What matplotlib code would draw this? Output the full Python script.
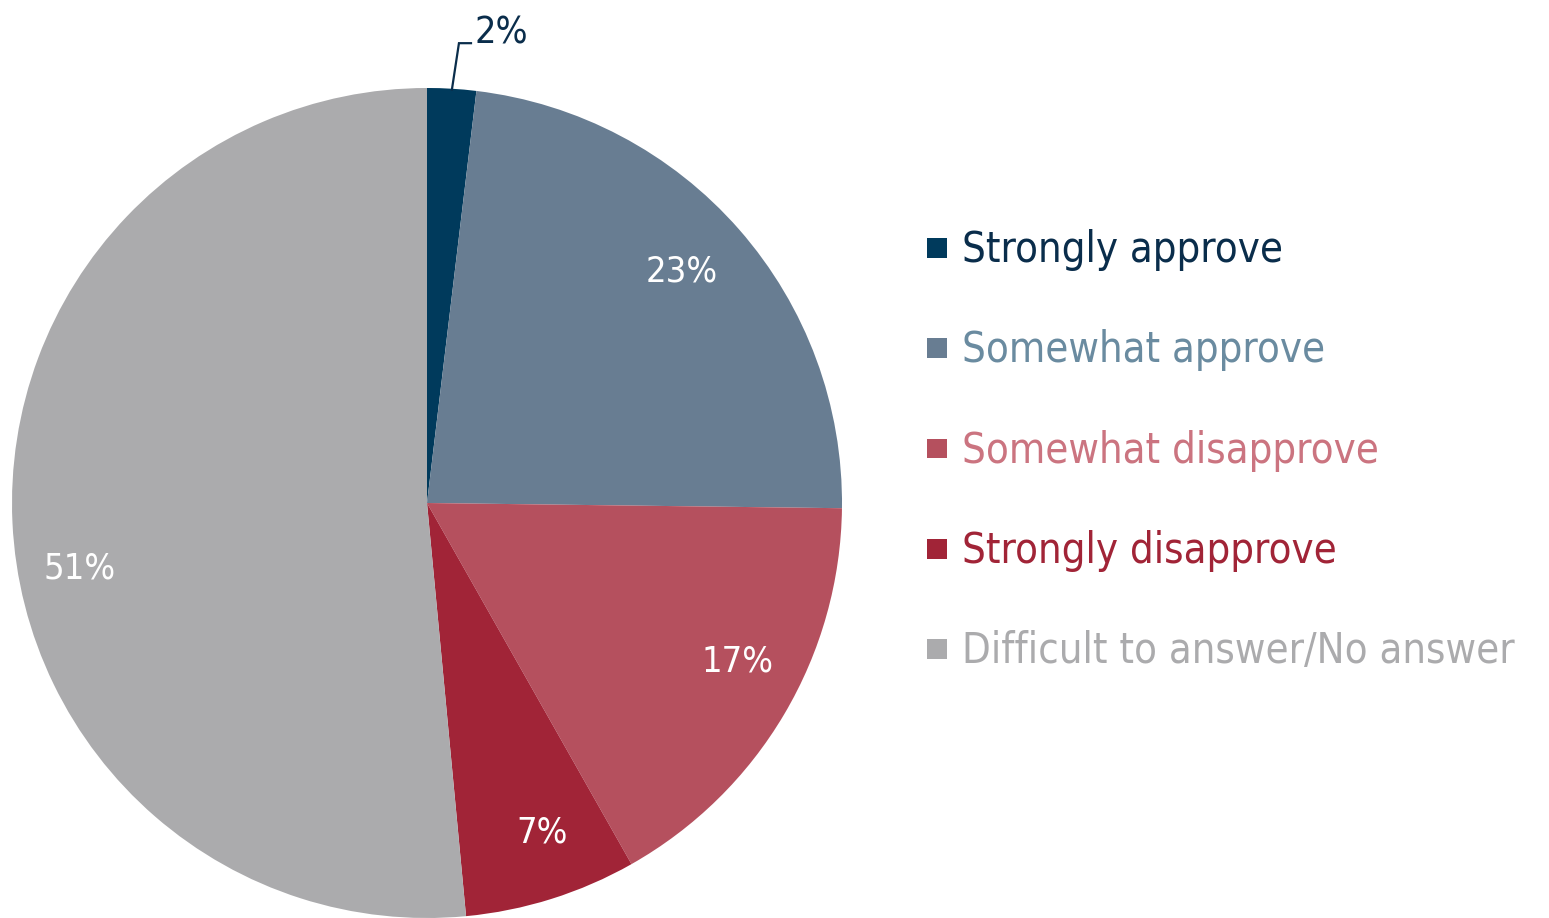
import matplotlib
matplotlib.use("Agg")
import matplotlib.pyplot as plt
from matplotlib.patches import Rectangle

categories = ["Strongly approve", "Somewhat approve", "Somewhat disapprove",
              "Strongly disapprove", "Difficult to answer/No answer"]
values = [1.9, 23.3, 16.6, 6.7, 51.5]
pct_labels = ["2%", "23%", "17%", "7%", "51%"]
wedge_colors = ["#003A5C", "#687D92", "#B5505E", "#A12437", "#ABABAD"]
text_colors = ["#0A2D4B", "#6A8BA0", "#CB7480", "#A12437", "#ABABAD"]

W, H = 1549, 918
fig = plt.figure(figsize=(W / 100, H / 100), dpi=100)
FONT = dict(family="DejaVu Sans", stretch="condensed")

cx, cy, r = 427, 503, 415
ax = fig.add_axes([(cx - r) / W, (H - cy - r) / H, 2 * r / W, 2 * r / H])
wedges, texts, autotexts = ax.pie(
    values, colors=wedge_colors, startangle=90, counterclock=False,
    radius=1.0, autopct="%d%%", pctdistance=0.84,
    wedgeprops=dict(linewidth=0))
ax.set_xlim(-1, 1)
ax.set_ylim(-1, 1)
ax.set_aspect("equal")
ax.axis("off")

# label placement (layout, in axes data units)
label_xy = [None, (0.614, 0.559), (0.747, -0.383), (0.277, -0.795), (-0.838, -0.157)]
for i, t in enumerate(autotexts):
    t.set_text(pct_labels[i])
    t.set_color("white")
    t.set_fontsize(26)
    t.set_fontfamily("DejaVu Sans")
    t.set_fontstretch("condensed")
    if label_xy[i] is not None:
        t.set_position(label_xy[i])

# small slice: label outside with leader line
autotexts[0].set_visible(False)
ax.plot([0.060, 0.077, 0.106], [0.996, 1.108, 1.108], color="#0A2D4B",
        lw=1.6, clip_on=False, solid_joinstyle="miter")
ax.text(0.114, 1.108, pct_labels[0], color="#0A2D4B", fontsize=27,
        ha="left", va="baseline", clip_on=False, **FONT)

# legend
x_sq, sq = 927, 20
base0, step = 262, 100.25
for i, lab in enumerate(categories):
    b = base0 + i * step
    fig.patches.append(Rectangle((x_sq / W, (H - (b - 4)) / H), sq / W, sq / H,
                                 transform=fig.transFigure, color=wedge_colors[i],
                                 lw=0))
    fig.text(962 / W, (H - b) / H, lab, color=text_colors[i], fontsize=30,
             ha="left", va="baseline", **FONT)

fig.savefig("out.png", dpi=100)
